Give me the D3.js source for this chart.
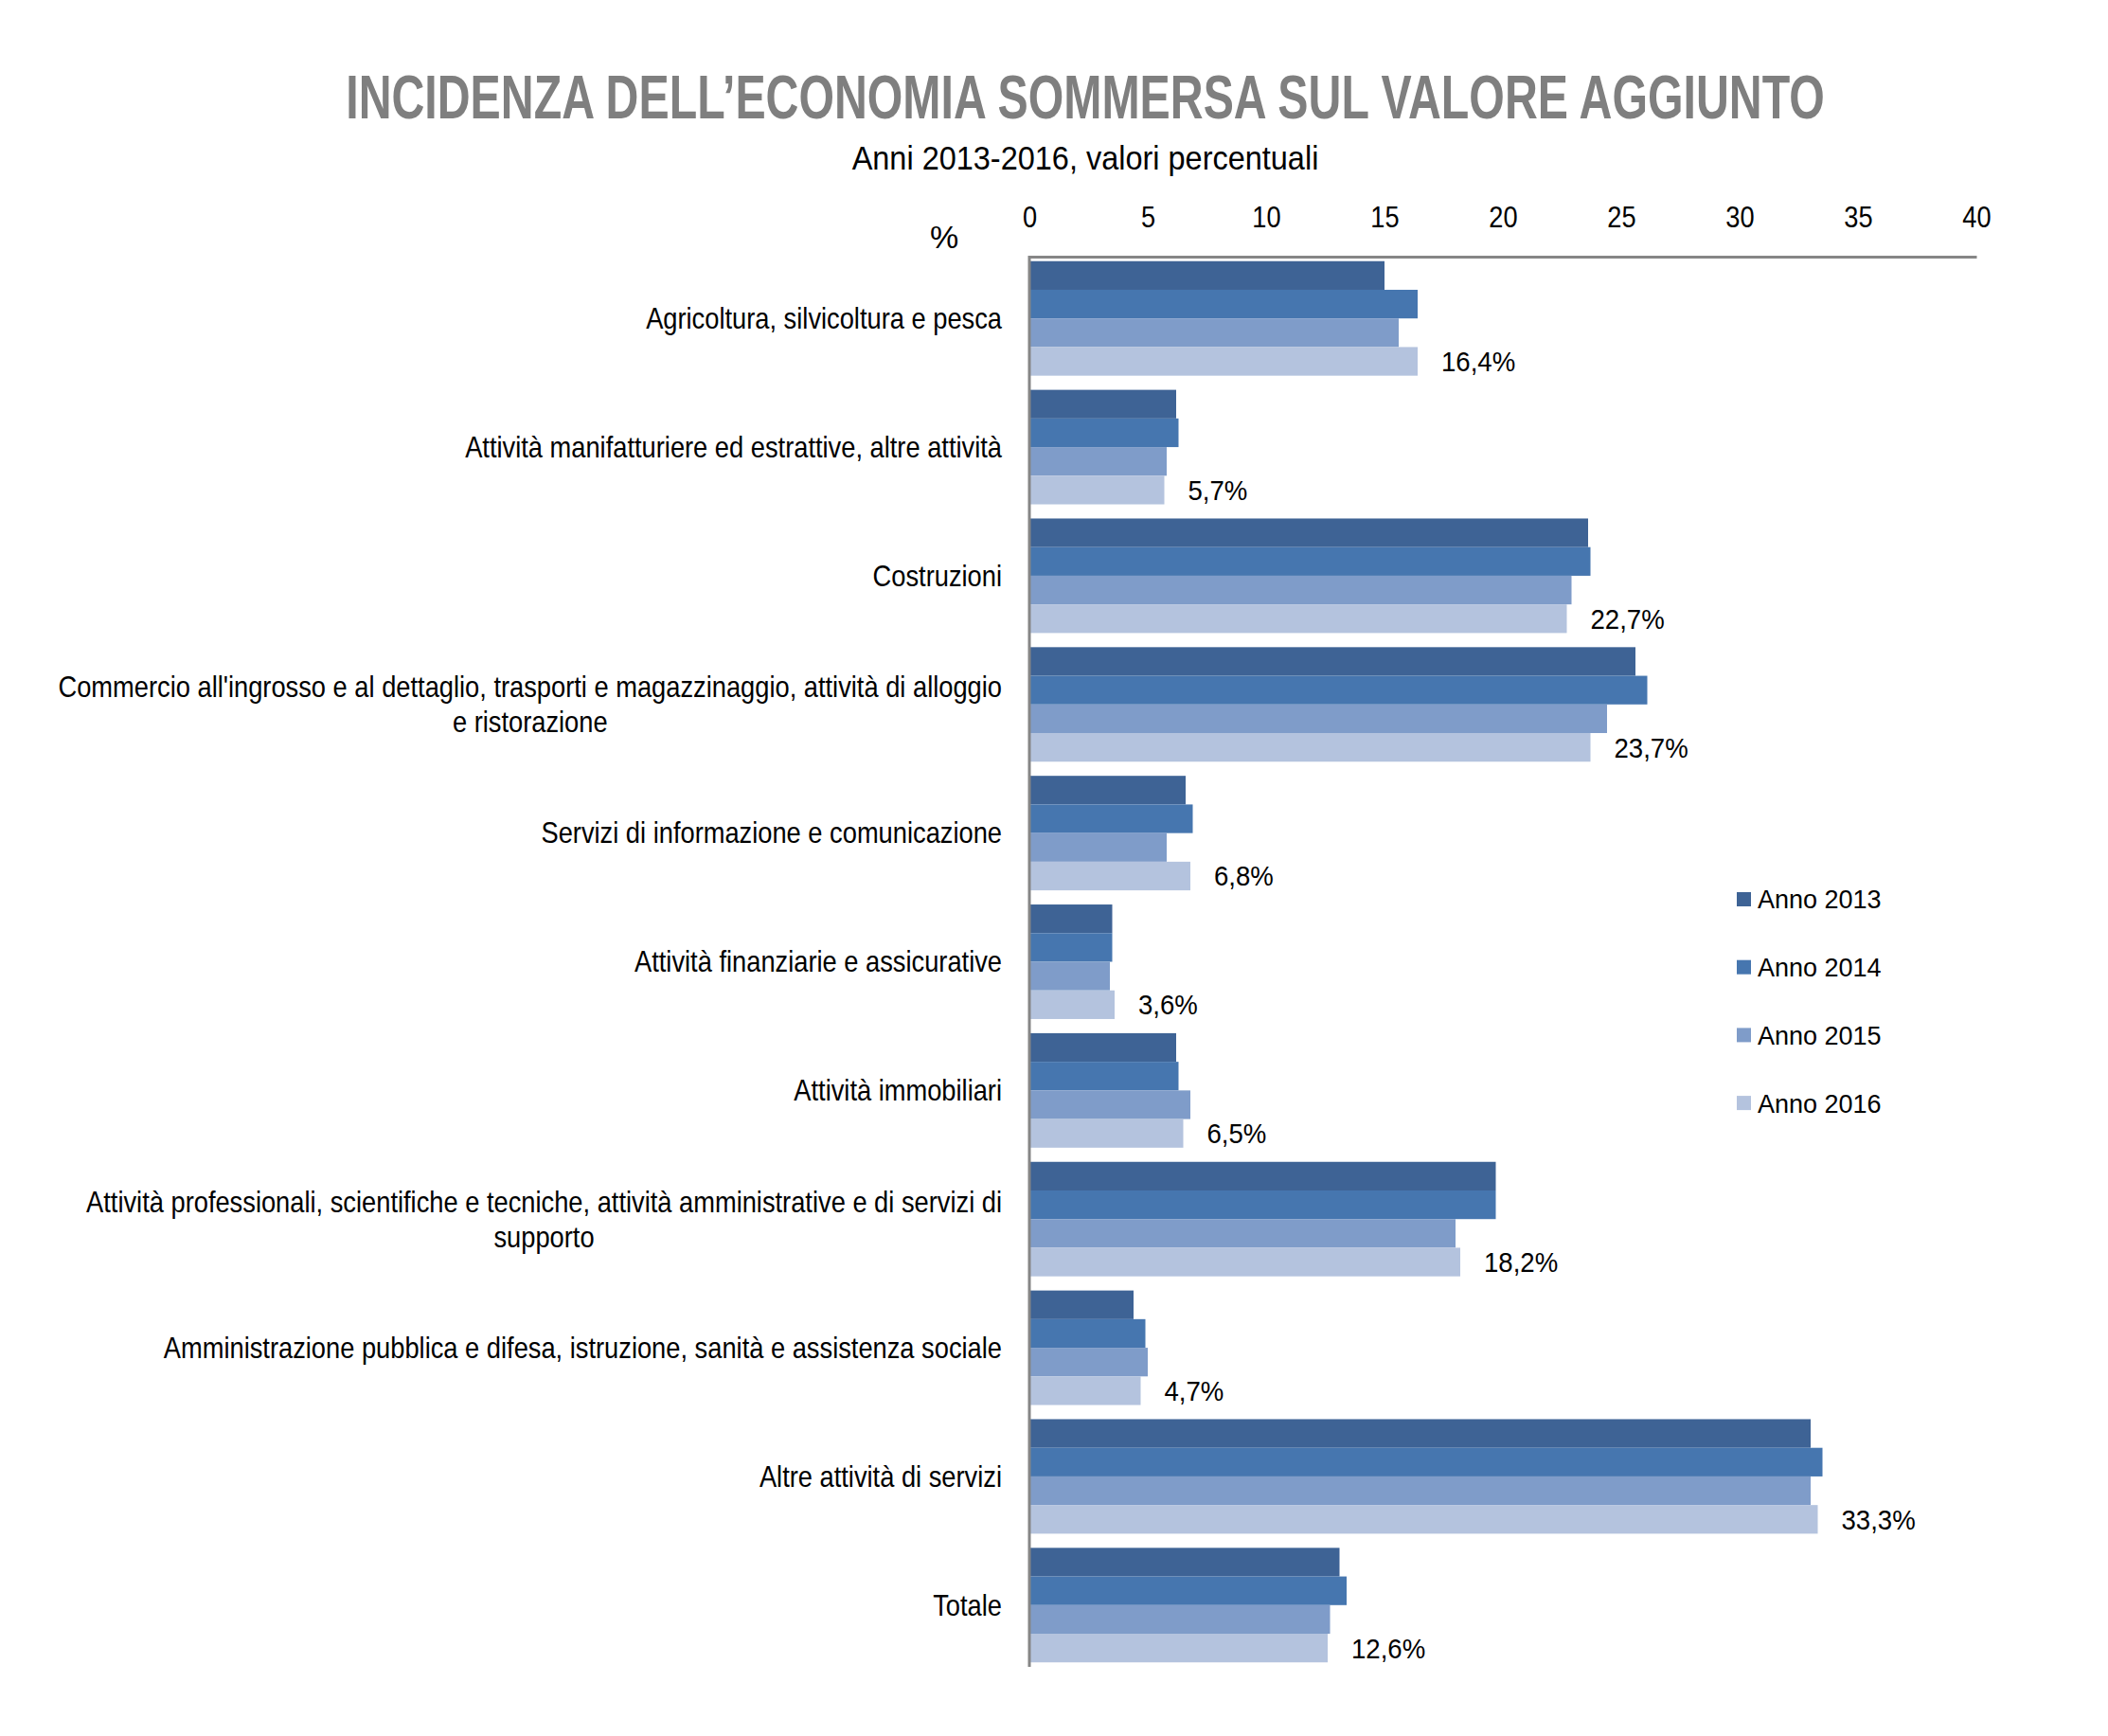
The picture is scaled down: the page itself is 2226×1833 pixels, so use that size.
<!DOCTYPE html>
<html>
<head>
<meta charset="utf-8">
<script src="https://cdn.jsdelivr.net/npm/d3@7"></script>
<style>
  body { margin: 0; background: #fff; }
  text { font-family: "Liberation Sans Narrow", "Arial Narrow", "Liberation Sans", sans-serif; fill: #000; }
</style>
</head>
<body>
<div id="chart"></div>
<script>
var categories = [
  "Agricoltura, silvicoltura e pesca",
  "Attività manifatturiere ed estrattive, altre attività",
  "Costruzioni",
  "Commercio all'ingrosso e al dettaglio, trasporti e magazzinaggio, attività di alloggio\ne ristorazione",
  "Servizi di informazione e comunicazione",
  "Attività finanziarie e assicurative",
  "Attività immobiliari",
  "Attività professionali, scientifiche e tecniche, attività amministrative e di servizi di\nsupporto",
  "Amministrazione pubblica e difesa, istruzione, sanità e assistenza sociale",
  "Altre attività di servizi",
  "Totale"
];
var years = ["Anno 2013", "Anno 2014", "Anno 2015", "Anno 2016"];
var anno2013 = [15.0, 6.2, 23.6, 25.6, 6.6, 3.5, 6.2, 19.7, 4.4, 33.0, 13.1];
var anno2014 = [16.4, 6.3, 23.7, 26.1, 6.9, 3.5, 6.3, 19.7, 4.9, 33.5, 13.4];
var anno2015 = [15.6, 5.8, 22.9, 24.4, 5.8, 3.4, 6.8, 18.0, 5.0, 33.0, 12.7];
var anno2016 = [16.4, 5.7, 22.7, 23.7, 6.8, 3.6, 6.5, 18.2, 4.7, 33.3, 12.6];
var labels2016 = ["16,4%", "5,7%", "22,7%", "23,7%", "6,8%", "3,6%", "6,5%", "18,2%", "4,7%", "33,3%", "12,6%"];
var xTicks = [0, 5, 10, 15, 20, 25, 30, 35, 40];
var colors = ["#3e6395", "#4676af", "#7f9cc9", "#b4c3de"];

var series = [anno2013, anno2014, anno2015, anno2016];
var narrow = 0.88; // squeeze factor, no condensed font installed

var w = 2226, h = 1833;
var svg = d3.select('#chart').append('svg')
  .attr('width', w)
  .attr('height', h);

// squeeze a centered text horizontally to a given width
function fitText(sel, cx, cy, width){
  var len = sel.node().getComputedTextLength();
  sel.attr('transform', 'translate(' + cx + ',' + cy + ') scale(' + (width / len) + ',1)');
}

// titles
var title = svg.append('text')
  .attr('text-anchor', 'middle')
  .style('font-size', '64px').style('font-weight', 'bold')
  .style('fill', '#7f7f7f')
  .text("INCIDENZA DELL’ECONOMIA SOMMERSA SUL VALORE AGGIUNTO");
fitText(title, 1146, 125, 1562);

var sub = svg.append('text')
  .attr('text-anchor', 'middle')
  .style('font-size', '36px')
  .text("Anni 2013-2016, valori percentuali");
fitText(sub, 1146, 179, 493);

svg.append('text')
  .attr('x', 997).attr('y', 262)
  .attr('text-anchor', 'middle')
  .style('font-family', '"Liberation Sans", Arial, sans-serif')
  .style('font-size', '34px')
  .text("%");

var x = d3.scaleLinear().domain([0, 40]).range([1087, 2087]);
var y = d3.scaleBand().domain(d3.range(categories.length)).range([271, 1760])
  .paddingInner(0.11).paddingOuter(0.035);
var yInner = d3.scaleBand().domain(d3.range(years.length)).range([0, y.bandwidth()]);

// bars
var groups = svg.selectAll('g.grp')
  .data(categories)
  .enter().append('g')
  .attr('class', 'grp')
  .attr('transform', function(d, i){ return 'translate(0,' + y(i) + ')'; });

groups.selectAll('rect')
  .data(function(d, i){ return series.map(function(s, j){ return {v: s[i], j: j}; }); })
  .enter().append('rect')
  .attr('x', x(0))
  .attr('y', function(d){ return yInner(d.j); })
  .attr('width', function(d){ return x(d.v) - x(0); })
  .attr('height', yInner.bandwidth())
  .style('fill', function(d){ return colors[d.j]; });

// value labels on the 2016 bar
groups.append('text')
  .attr('transform', function(d, i){
    return 'translate(' + (x(anno2016[i]) + 25) + ',' + (yInner(3) + yInner.bandwidth() / 2) + ') scale(0.92,1)';
  })
  .attr('dy', '0.35em')
  .style('font-size', '30px')
  .text(function(d, i){ return labels2016[i]; });

// category labels
groups.each(function(d, i){
  var lines = d.split('\n');
  var g = d3.select(this);
  var cy = y.bandwidth() / 2;
  var lh = 37;
  var t = g.append('text')
    .attr('transform', 'translate(1058,0) scale(' + narrow + ',1)')
    .style('font-size', '31px')
    .attr('text-anchor', lines.length > 1 ? 'middle' : 'end');
  lines.forEach(function(l, k){
    t.append('tspan')
      .attr('x', 0)
      .attr('y', cy + (k - (lines.length - 1) / 2) * lh)
      .attr('dy', '0.35em')
      .text(l);
  });
  if (lines.length > 1) {
    // center block so that the longest line ends at the axis side
    var wmax = d3.max(t.selectAll('tspan').nodes(), function(n){ return n.getComputedTextLength(); });
    t.selectAll('tspan').attr('x', -wmax / 2);
  }
});

// axis
var xAxis = d3.axisTop(x).tickValues(xTicks).tickSize(0).tickPadding(31).tickSizeOuter(0);
var ax = svg.append('g')
  .attr('transform', 'translate(0,271)')
  .call(xAxis);
ax.select('.domain').attr('stroke', '#868686').attr('stroke-width', 3);
ax.selectAll('.tick text')
  .style('font-size', '32px')
  .style('font-family', '"Liberation Sans Narrow", "Arial Narrow", sans-serif')
  .attr('transform', 'scale(0.85,1)')
  .attr('fill', '#000');

svg.append('line')
  .attr('x1', x(0)).attr('x2', x(0))
  .attr('y1', 270).attr('y2', 1760)
  .attr('stroke', '#868686').attr('stroke-width', 3);

// legend
var legend = svg.selectAll('g.leg')
  .data(years)
  .enter().append('g')
  .attr('class', 'leg')
  .attr('transform', function(d, i){ return 'translate(1834,' + (950 + i * 71.7) + ')'; });
legend.append('rect')
  .attr('x', 0).attr('y', -8)
  .attr('width', 15).attr('height', 15)
  .style('fill', function(d, i){ return colors[i]; });
legend.append('text')
  .attr('x', 22).attr('y', 0).attr('dy', '0.35em')
  .style('font-family', '"Liberation Sans", Arial, sans-serif')
  .style('font-size', '27px')
  .text(function(d){ return d; });
</script>
</body>
</html>
